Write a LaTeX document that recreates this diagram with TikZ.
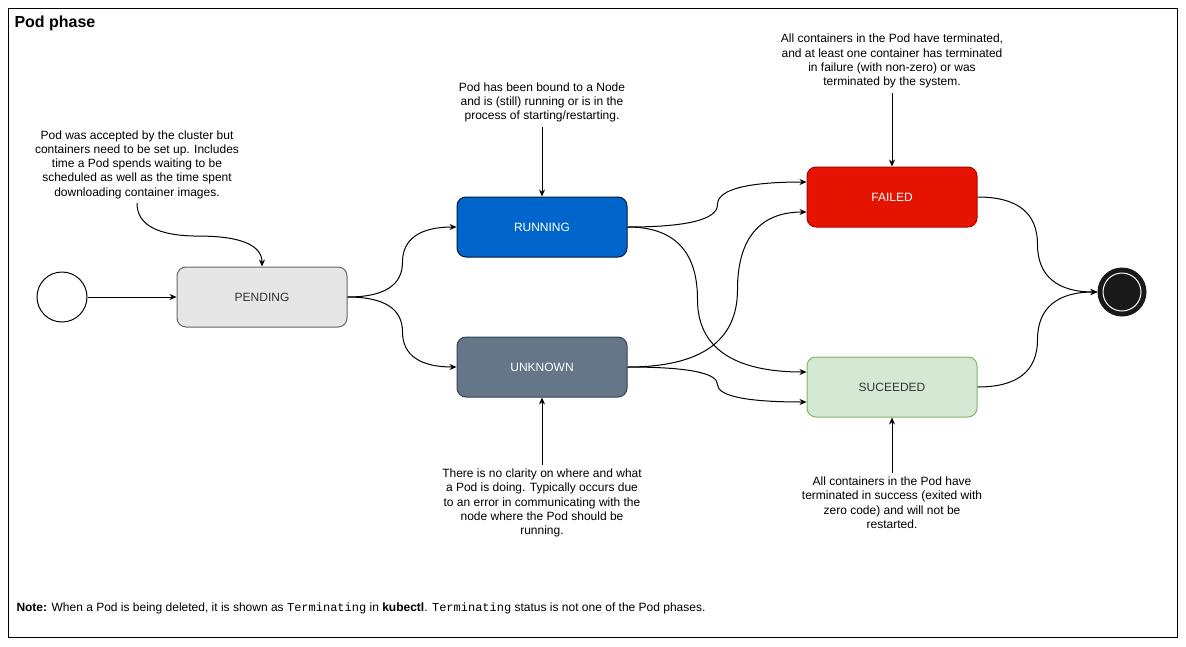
\documentclass[tikz,border=0pt]{standalone}
\usepackage{fontspec}
\setmainfont{Liberation Sans}
\setmonofont{Liberation Mono}
\usetikzlibrary{arrows.meta, positioning, calc}

\definecolor{pendfill}{HTML}{E6E6E6}
\definecolor{pendline}{HTML}{666666}
\definecolor{runfill}{HTML}{0066CC}
\definecolor{runline}{HTML}{001933}
\definecolor{unkfill}{HTML}{647687}
\definecolor{unkline}{HTML}{314354}
\definecolor{failfill}{HTML}{E51400}
\definecolor{failline}{HTML}{B20000}
\definecolor{sucfill}{HTML}{D5E8D4}
\definecolor{sucline}{HTML}{82B366}
\definecolor{textgrey}{HTML}{333333}

\begin{document}
\begin{tikzpicture}[
  x=1pt, y=-1pt,
  line width=1pt,
  font=\fontsize{12}{14.25}\selectfont,
  state/.style={draw, rounded corners=9pt, minimum width=170pt, minimum height=60pt, inner sep=0pt},
  note/.style={align=center, inner sep=4pt},
  arrow/.style={-{Stealth[length=7pt,width=6pt]}},
  flow/.style={to path={let \p1=(\tikztostart), \p2=(\tikztotarget) in
    .. controls (\x1+#1*2/3, \y1) and (\x1+#1, \y1*5/6+\y2/6) .. (\x1+#1, \y1/2+\y2/2)
    .. controls (\x1+#1, \y1/6+\y2*5/6) and (\x2/3+\x1*2/3+#1*2/3, \y2) .. (\x2, \y2) \tikztonodes}},
]
\useasboundingbox (0,0) rectangle (1186,646);

% Frame and title
\draw (8,8) rectangle (1177,637);
\node[anchor=west, inner sep=0pt, font=\fontsize{16}{19}\selectfont\bfseries] (title) at (14,23) {Pod phase};

% States
\node[draw, circle, minimum size=50pt, inner sep=0pt] (start) at (62,297) {};
\node[state, fill=pendfill, draw=pendline, text=textgrey] (pending) at (262,297) {PENDING};
\node[state, fill=runfill, draw=runline, text=white] (running) at (542,227) {RUNNING};
\node[state, fill=unkfill, draw=unkline, text=white] (unknown) at (542,367) {UNKNOWN};
\node[state, fill=failfill, draw=failline, text=white] (failed) at (892,197) {FAILED};
\node[state, fill=sucfill, draw=sucline, text=textgrey] (suceeded) at (892,387) {SUCEEDED};
\node[circle, minimum size=48pt, inner sep=0pt, fill=black!90, draw=black!90] (finish) at (1122,292) {};
\draw[white] (finish.center) circle[radius=19pt];

% Notes
\node[note] (pendnote) at (137,164.5) {Pod was accepted by the cluster but\\containers need to be set up. Includes\\time a Pod spends waiting to be\\scheduled as well as the time spent\\downloading container images.};
\node[note, above=70pt of running] (runnote) {Pod has been bound to a Node\\and is (still) running or is in the\\process of starting/restarting.};
\node[note, above=74pt of failed] (failnote) {All containers in the Pod have terminated,\\and at least one container has terminated\\in failure (with non-zero) or was\\terminated by the system.};
\node[note, below=67pt of unknown] (unknote) {There is no clarity on where and what\\a Pod is doing. Typically occurs due\\to an error in communicating with the\\node where the Pod should be\\running.};
\node[note, below=55pt of suceeded] (sucnote) {All containers in the Pod have\\terminated in success (exited with\\zero code) and will not be\\restarted.};

% Note arrows
\draw[arrow] (pendnote.south) .. controls +(0,22) and +(-41.7,0) .. ++(62.5,33)
                              .. controls +(41.7,0) and +(0,-21) .. (pending.north);
\draw[arrow] (runnote) -- (running);
\draw[arrow] (failnote) -- (failed);
\draw[arrow] (unknote) -- (unknown);
\draw[arrow] (sucnote) -- (suceeded);

% Transitions
\draw[arrow] (start) -- (pending);
\draw[arrow] (pending.east) to[flow=55] (running.west);
\draw[arrow] (pending.east) to[flow=55] (unknown.west);
\draw[arrow] (running.east) to[flow=90] ([yshift=15pt]failed.west);
\draw[arrow] (running.east) to[flow=70] ([yshift=15pt]suceeded.west);
\draw[arrow] (unknown.east) to[flow=110] ([yshift=-15pt]failed.west);
\draw[arrow] (unknown.east) to[flow=90] ([yshift=-15pt]suceeded.west);
\draw[arrow] (failed.east) to[flow=60] (finish.west);
\draw[arrow] (suceeded.east) to[flow=60] (finish.west);

% Footer note
\node[anchor=west, inner sep=0pt] (footer) at (16,608) {\textbf{Note:} When a Pod is being deleted, it is shown as \texttt{Terminating} in \textbf{kubectl}. \texttt{Terminating} status is not one of the Pod phases.};

\end{tikzpicture}
\end{document}
